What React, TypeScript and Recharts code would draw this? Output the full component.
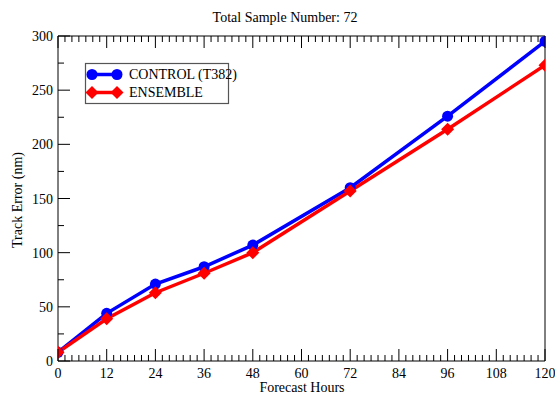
import React from 'react';
import { LineChart, Line, XAxis, YAxis } from 'recharts';

const hours = [0, 12, 24, 36, 48, 72, 96, 120];
const control = [8, 44, 71, 87, 107, 160, 226, 295];
const ensemble = [8, 39, 63, 81, 100, 157, 214, 273];
const xMajorTicks = [0, 12, 24, 36, 48, 60, 72, 84, 96, 108, 120];
const yMajorTicks = [0, 50, 100, 150, 200, 250, 300];
const xMinorDivisions = 7;
const yMinorDivisions = 2;
const seriesNames = ['CONTROL (T382)', 'ENSEMBLE'];
const subtitle = 'Total Sample Number: 72';
const xLabel = 'Forecast Hours';
const yLabel = 'Track Error (nm)';

const data = hours.map((h, i) => ({ h, control: control[i], ensemble: ensemble[i] }));

const withMinor = (majors: number[], div: number) => {
  const out: number[] = [];
  for (let i = 0; i < majors.length - 1; i++) {
    const a = majors[i];
    const b = majors[i + 1];
    for (let k = 0; k < div; k++) out.push(a + ((b - a) * k) / div);
  }
  out.push(majors[majors.length - 1]);
  return out;
};
const xAllTicks = withMinor(xMajorTicks, xMinorDivisions);
const yAllTicks = withMinor(yMajorTicks, yMinorDivisions);

const isMajor = (v: number, majors: number[]) => majors.some((m) => Math.abs(m - v) < 1e-6);

const FONT = '"Liberation Serif", "Times New Roman", serif';
const MAJ = 12;
const MIN = 6;

const BottomTick = (props: any) => {
  const { x, y, payload } = props;
  const major = isMajor(payload.value, xMajorTicks);
  return (
    <g>
      <line x1={x} x2={x} y1={y} y2={y - (major ? MAJ : MIN)} stroke="#000" strokeWidth={1} />
      {major && (
        <text x={x} y={y + 17} textAnchor="middle" fontSize={14} fontFamily={FONT} fill="#000">
          {Math.round(payload.value)}
        </text>
      )}
    </g>
  );
};

const TopTick = (props: any) => {
  const { x, y, payload } = props;
  const major = isMajor(payload.value, xMajorTicks);
  return <line x1={x} x2={x} y1={y} y2={y + (major ? MAJ : MIN)} stroke="#000" strokeWidth={1} />;
};

const LeftTick = (props: any) => {
  const { x, y, payload } = props;
  const major = isMajor(payload.value, yMajorTicks);
  return (
    <g>
      <line x1={x} x2={x + (major ? MAJ : MIN)} y1={y} y2={y} stroke="#000" strokeWidth={1} />
      {major && (
        <text x={x - 5} y={y + 5} textAnchor="end" fontSize={14} fontFamily={FONT} fill="#000">
          {Math.round(payload.value)}
        </text>
      )}
    </g>
  );
};

const RightTick = (props: any) => {
  const { x, y, payload } = props;
  const major = isMajor(payload.value, yMajorTicks);
  return <line x1={x} x2={x - (major ? MAJ : MIN)} y1={y} y2={y} stroke="#000" strokeWidth={1} />;
};

const CircleDot = (props: any) => {
  const { cx, cy, index } = props;
  if (cx == null || cy == null) return <g key={index} />;
  return <circle key={index} cx={cx} cy={cy} r={5.5} fill="#0000ff" />;
};

const DiamondDot = (props: any) => {
  const { cx, cy, index } = props;
  if (cx == null || cy == null) return <g key={index} />;
  const s = 6.5;
  return (
    <polygon
      key={index}
      points={`${cx},${cy - s} ${cx + s},${cy} ${cx},${cy + s} ${cx - s},${cy}`}
      fill="#ff0000"
    />
  );
};

export default function App() {
  return (
    <div style={{ position: 'absolute', left: 0, top: 0, width: 555, height: 397, background: '#fff' }}>
      <LineChart
        width={555}
        height={397}
        data={data}
        margin={{ top: 35, right: 9, bottom: 0, left: 0 }}
      >
        <XAxis
          dataKey="h"
          type="number"
          domain={[0, 120]}
          ticks={xAllTicks}
          interval={0}
          height={36}
          tickSize={0}
          tickMargin={0}
          tickLine={false}
          axisLine={{ stroke: '#000', strokeWidth: 1 }}
          tick={BottomTick}
          allowDataOverflow
        />
        <XAxis
          xAxisId="top"
          orientation="top"
          dataKey="h"
          type="number"
          domain={[0, 120]}
          ticks={xAllTicks}
          interval={0}
          height={1}
          tickSize={0}
          tickMargin={0}
          tickLine={false}
          axisLine={{ stroke: '#000', strokeWidth: 1 }}
          tick={TopTick}
        />
        <YAxis
          type="number"
          domain={[0, 300]}
          ticks={yAllTicks}
          interval={0}
          width={58}
          tickSize={0}
          tickMargin={0}
          tickLine={false}
          axisLine={{ stroke: '#000', strokeWidth: 1 }}
          tick={LeftTick}
          allowDataOverflow
        />
        <YAxis
          yAxisId="right"
          orientation="right"
          type="number"
          domain={[0, 300]}
          ticks={yAllTicks}
          interval={0}
          width={1}
          tickSize={0}
          tickMargin={0}
          tickLine={false}
          axisLine={{ stroke: '#000', strokeWidth: 1 }}
          tick={RightTick}
        />
        <Line
          dataKey="control"
          name={seriesNames[0]}
          stroke="#0000ff"
          strokeWidth={3.5}
          dot={CircleDot}
          activeDot={false}
          isAnimationActive={false}
        />
        <Line
          dataKey="ensemble"
          name={seriesNames[1]}
          stroke="#ff0000"
          strokeWidth={3.5}
          dot={DiamondDot}
          activeDot={false}
          isAnimationActive={false}
        />
      </LineChart>
      <svg
        width={555}
        height={397}
        style={{ position: 'absolute', left: 0, top: 0, pointerEvents: 'none' }}
      >
        <text x={285} y={21.5} textAnchor="middle" fontSize={14} fontFamily={FONT} fill="#000">
          {subtitle}
        </text>
        <text x={302} y={392} textAnchor="middle" fontSize={14} fontFamily={FONT} fill="#000">
          {xLabel}
        </text>
        <text
          x={21.5}
          y={200}
          textAnchor="middle"
          fontSize={14}
          fontFamily={FONT}
          fill="#000"
          transform="rotate(-90 21.5 200)"
        >
          {yLabel}
        </text>
        <rect x={85.5} y={63.5} width={143} height={40} fill="#fff" stroke="#555" strokeWidth={1.2} />
        <line x1={92} x2={117} y1={74.5} y2={74.5} stroke="#0000ff" strokeWidth={3.5} />
        <circle cx={92} cy={74.5} r={5.5} fill="#0000ff" />
        <circle cx={117} cy={74.5} r={5.5} fill="#0000ff" />
        <text x={129} y={79.3} fontSize={14} fontFamily={FONT} fill="#000">
          {seriesNames[0]}
        </text>
        <line x1={92} x2={117} y1={92.5} y2={92.5} stroke="#ff0000" strokeWidth={3.5} />
        <polygon points="92,86 98.5,92.5 92,99 85.5,92.5" fill="#ff0000" />
        <polygon points="117,86 123.5,92.5 117,99 110.5,92.5" fill="#ff0000" />
        <text x={129} y={97.3} fontSize={14} fontFamily={FONT} fill="#000">
          {seriesNames[1]}
        </text>
      </svg>
    </div>
  );
}
